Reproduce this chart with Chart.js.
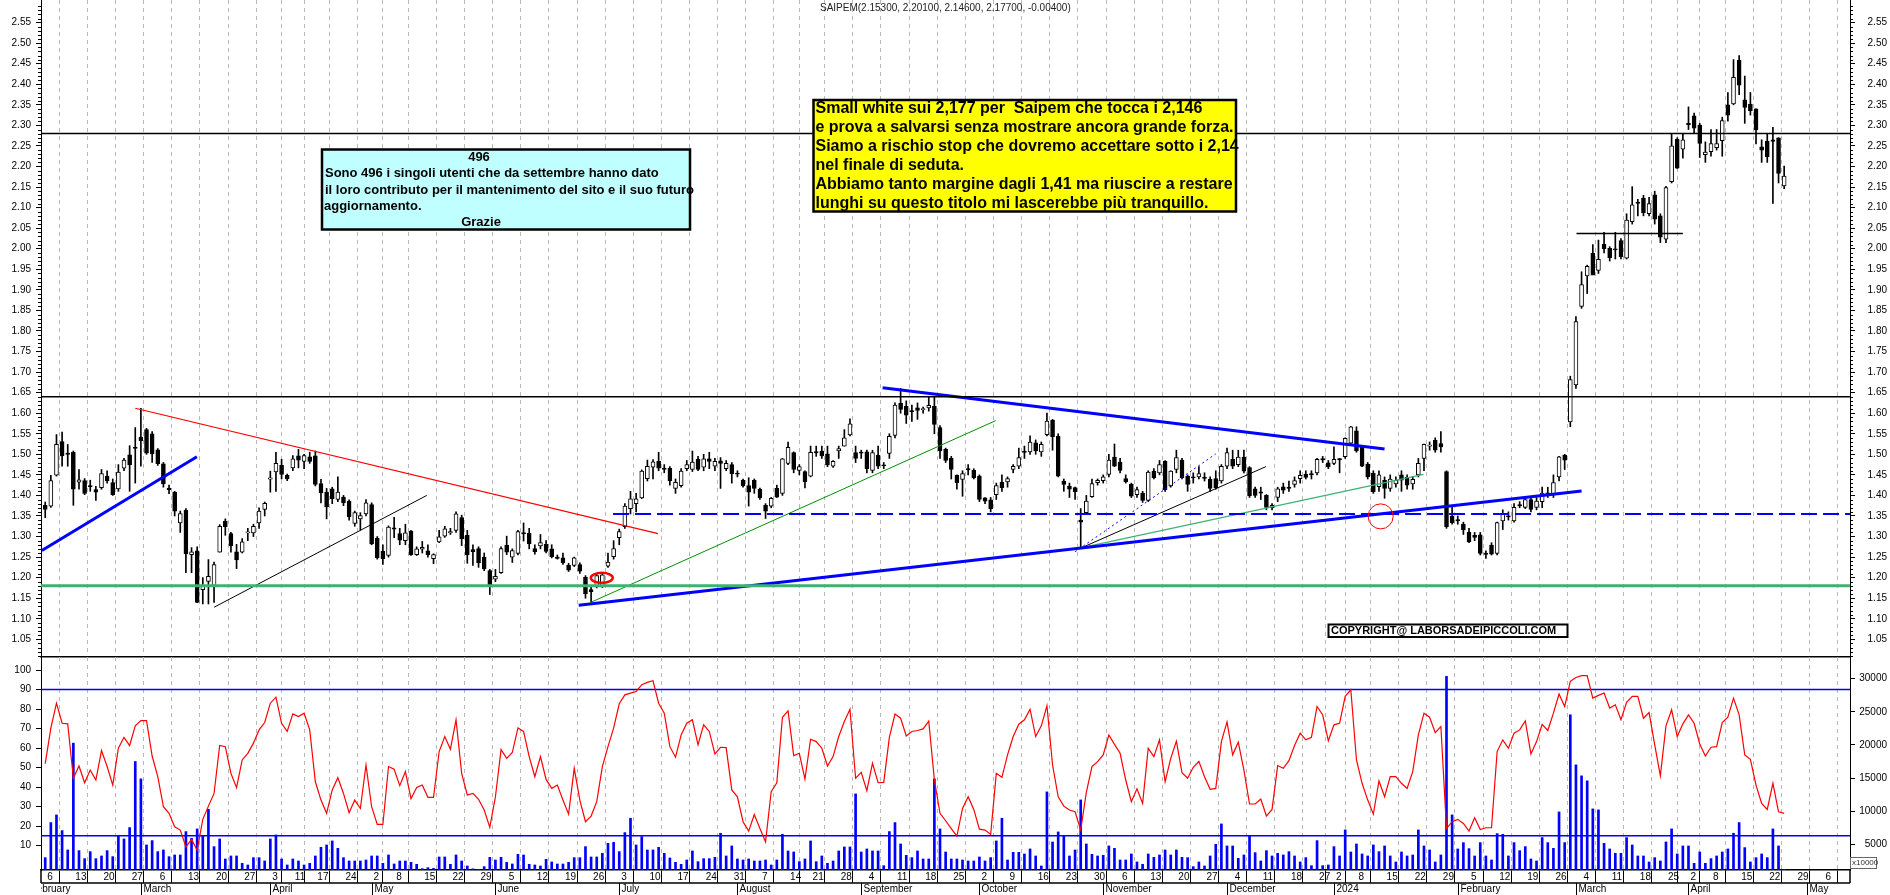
<!DOCTYPE html>
<html>
<head>
<meta charset="utf-8">
<script src="https://cdn.jsdelivr.net/npm/chart.js@4.4.0/dist/chart.umd.min.js"></script>
<style>
  html, body { margin: 0; padding: 0; background: #fff; }
  #wrap { position: relative; width: 1890px; height: 895px; overflow: hidden; background: #fff; }
  #top { position: absolute; left: 0; top: 0; }
  #bot { position: absolute; left: 0; top: 657px; }
</style>
</head>
<body>
<div id="wrap">
  <canvas id="top" width="1890" height="658"></canvas>
  <canvas id="bot" width="1890" height="238"></canvas>
</div>
<script>
// ---- calendar: sessions from 6 Feb 2023 to 25 Apr 2024, axis runs on to 10 May 2024
const calendarStart = '2023-02-01';
const firstSession = '2023-02-06';
const lastSession = '2024-04-25';
const axisEnd = '2024-05-10';
const holidays = ['2023-04-07', '2023-04-10', '2023-05-01', '2023-08-15', '2023-12-25',
                  '2023-12-26', '2024-01-01', '2024-03-29', '2024-04-01'];
const monthNames = ['2024', 'February', 'March', 'April', 'May', 'June', 'July', 'August',
                    'September', 'October', 'November', 'December'];

// ---- daily candles (SAIPEM)
const opens = [
  1.376,1.374,1.449,1.531,1.503,1.505,1.432,1.436,1.424,1.414,
  1.419,1.447,1.431,1.416,1.466,1.499,1.517,1.542,1.560,1.550,
  1.511,1.477,1.418,1.408,1.333,1.364,1.256,1.265,1.171,1.191,
  1.181,1.262,1.337,1.307,1.263,1.262,1.309,1.309,1.333,1.366,
  1.440,1.457,1.473,1.449,1.467,1.496,1.483,1.494,1.496,1.429,
  1.408,1.416,1.390,1.396,1.386,1.332,1.343,1.355,1.378,1.296,
  1.264,1.254,1.321,1.307,1.290,1.313,1.256,1.269,1.265,1.246,
  1.287,1.301,1.309,1.315,1.346,1.303,1.268,1.271,1.250,1.217,
  1.196,1.212,1.279,1.250,1.259,1.309,1.308,1.271,1.277,1.281,
  1.270,1.250,1.248,1.230,1.230,1.232,1.201,1.171,1.180,1.178,
  1.228,1.251,1.297,1.324,1.368,1.380,1.394,1.441,1.469,1.483,
  1.466,1.466,1.417,1.424,1.465,1.463,1.488,1.469,1.489,1.471,
  1.484,1.465,1.475,1.454,1.437,1.424,1.437,1.415,1.376,1.374,
  1.417,1.405,1.478,1.504,1.461,1.458,1.447,1.506,1.508,1.501,
  1.471,1.508,1.520,1.547,1.504,1.505,1.506,1.461,1.498,1.474,
  1.502,1.546,1.624,1.617,1.606,1.613,1.609,1.613,1.617,1.565,
  1.512,1.490,1.449,1.439,1.464,1.461,1.447,1.394,1.389,1.402,
  1.432,1.433,1.463,1.471,1.507,1.506,1.528,1.506,1.548,1.583,
  1.544,1.435,1.423,1.419,1.340,1.358,1.397,1.431,1.436,1.451,
  1.493,1.481,1.441,1.427,1.402,1.406,1.388,1.459,1.455,1.483,
  1.423,1.463,1.486,1.447,1.445,1.445,1.444,1.439,1.441,1.435,
  1.471,1.488,1.475,1.493,1.468,1.416,1.408,1.400,1.370,1.395,
  1.421,1.419,1.427,1.441,1.452,1.452,1.455,1.489,1.479,1.478,
  1.489,1.494,1.527,1.557,1.518,1.476,1.454,1.421,1.437,1.417,
  1.428,1.450,1.444,1.428,1.450,1.490,1.520,1.534,1.526,1.458,
  1.350,1.341,1.330,1.310,1.303,1.304,1.259,1.279,1.259,1.338,
  1.350,1.338,1.377,1.371,1.390,1.371,1.385,1.406,1.401,1.445,
  1.498,1.579,1.669,1.860,1.934,1.989,1.947,2.011,2.001,2.000,
  2.020,1.977,2.066,2.113,2.123,2.085,2.131,2.080,2.023,2.163,
  2.266,2.242,2.305,2.323,2.301,2.229,2.236,2.246,2.263,2.350,
  2.352,2.458,2.362,2.352,2.340,2.248,2.262,2.265,2.270,2.153
];
const highs = [
  1.384,1.449,1.548,1.554,1.524,1.508,1.463,1.441,1.437,1.422,
  1.463,1.460,1.440,1.475,1.490,1.521,1.565,1.612,1.563,1.555,
  1.514,1.480,1.425,1.410,1.362,1.368,1.273,1.275,1.200,1.244,
  1.238,1.329,1.343,1.310,1.281,1.295,1.320,1.330,1.370,1.384,
  1.459,1.505,1.488,1.452,1.497,1.512,1.500,1.505,1.508,1.439,
  1.417,1.420,1.445,1.400,1.389,1.362,1.358,1.390,1.382,1.300,
  1.280,1.326,1.347,1.320,1.330,1.315,1.275,1.288,1.280,1.258,
  1.315,1.325,1.320,1.360,1.352,1.315,1.280,1.275,1.260,1.220,
  1.220,1.275,1.301,1.270,1.315,1.333,1.320,1.280,1.305,1.290,
  1.280,1.255,1.260,1.235,1.250,1.236,1.205,1.180,1.208,1.210,
  1.260,1.290,1.318,1.380,1.410,1.405,1.462,1.486,1.487,1.505,
  1.475,1.470,1.440,1.465,1.485,1.508,1.495,1.500,1.505,1.490,
  1.492,1.485,1.480,1.460,1.440,1.443,1.440,1.418,1.380,1.395,
  1.425,1.490,1.530,1.506,1.475,1.460,1.520,1.520,1.520,1.520,
  1.485,1.520,1.560,1.586,1.520,1.510,1.510,1.510,1.520,1.480,
  1.550,1.625,1.660,1.630,1.620,1.625,1.615,1.640,1.640,1.570,
  1.515,1.495,1.450,1.460,1.475,1.465,1.450,1.395,1.395,1.430,
  1.450,1.445,1.475,1.515,1.520,1.545,1.535,1.530,1.600,1.585,
  1.550,1.440,1.430,1.420,1.368,1.400,1.440,1.440,1.450,1.500,
  1.525,1.490,1.450,1.430,1.420,1.410,1.460,1.465,1.485,1.485,
  1.460,1.510,1.490,1.450,1.455,1.470,1.455,1.445,1.460,1.475,
  1.515,1.510,1.510,1.510,1.470,1.420,1.420,1.402,1.380,1.420,
  1.430,1.435,1.445,1.460,1.460,1.460,1.490,1.495,1.485,1.518,
  1.490,1.540,1.568,1.567,1.520,1.480,1.460,1.460,1.445,1.450,
  1.445,1.460,1.450,1.445,1.490,1.525,1.530,1.540,1.555,1.460,
  1.374,1.350,1.335,1.320,1.310,1.310,1.265,1.285,1.335,1.365,
  1.360,1.380,1.385,1.395,1.395,1.395,1.420,1.420,1.450,1.495,
  1.500,1.690,1.835,1.944,1.960,2.010,2.021,2.040,2.005,2.040,
  2.025,2.085,2.151,2.120,2.130,2.125,2.140,2.085,2.152,2.280,
  2.270,2.280,2.345,2.330,2.305,2.260,2.290,2.290,2.320,2.380,
  2.460,2.470,2.420,2.380,2.340,2.265,2.280,2.295,2.270,2.201
];
const lows = [
  1.346,1.371,1.447,1.471,1.471,1.376,1.415,1.402,1.410,1.388,
  1.415,1.430,1.400,1.410,1.460,1.410,1.430,1.471,1.500,1.480,
  1.473,1.420,1.404,1.350,1.310,1.212,1.212,1.139,1.136,1.136,
  1.140,1.262,1.303,1.262,1.222,1.260,1.290,1.300,1.320,1.350,
  1.408,1.410,1.440,1.436,1.460,1.467,1.465,1.478,1.423,1.382,
  1.343,1.380,1.385,1.375,1.340,1.325,1.316,1.350,1.280,1.245,
  1.232,1.250,1.297,1.280,1.280,1.254,1.254,1.260,1.250,1.234,
  1.285,1.298,1.305,1.310,1.278,1.235,1.230,1.225,1.217,1.159,
  1.190,1.210,1.256,1.237,1.255,1.289,1.270,1.257,1.270,1.260,
  1.248,1.245,1.232,1.215,1.227,1.210,1.150,1.139,1.175,1.176,
  1.225,1.245,1.280,1.320,1.355,1.360,1.392,1.435,1.440,1.460,
  1.455,1.425,1.405,1.420,1.460,1.458,1.460,1.460,1.465,1.460,
  1.417,1.460,1.430,1.445,1.420,1.374,1.405,1.390,1.344,1.370,
  1.395,1.400,1.475,1.455,1.450,1.418,1.445,1.495,1.490,1.470,
  1.468,1.490,1.520,1.545,1.480,1.490,1.455,1.455,1.465,1.465,
  1.490,1.540,1.600,1.575,1.580,1.585,1.600,1.605,1.550,1.490,
  1.480,1.440,1.415,1.398,1.450,1.440,1.385,1.380,1.360,1.390,
  1.410,1.420,1.455,1.465,1.490,1.500,1.500,1.495,1.545,1.510,
  1.445,1.410,1.395,1.390,1.272,1.355,1.395,1.425,1.430,1.445,
  1.470,1.455,1.430,1.395,1.395,1.383,1.385,1.440,1.450,1.410,
  1.420,1.455,1.440,1.410,1.430,1.440,1.435,1.410,1.415,1.430,
  1.465,1.465,1.470,1.455,1.395,1.395,1.390,1.365,1.365,1.385,
  1.405,1.410,1.420,1.430,1.440,1.440,1.450,1.480,1.465,1.475,
  1.455,1.490,1.525,1.505,1.470,1.440,1.405,1.410,1.393,1.410,
  1.420,1.410,1.415,1.415,1.445,1.460,1.510,1.505,1.505,1.320,
  1.330,1.330,1.305,1.285,1.290,1.255,1.247,1.255,1.255,1.317,
  1.340,1.335,1.370,1.368,1.360,1.365,1.370,1.395,1.395,1.435,
  1.463,1.567,1.660,1.855,1.891,1.940,1.940,1.990,1.970,1.975,
  1.975,1.975,2.060,2.080,2.080,2.080,2.060,2.015,2.015,2.160,
  2.195,2.220,2.290,2.280,2.222,2.210,2.225,2.240,2.225,2.310,
  2.350,2.375,2.305,2.325,2.255,2.210,2.210,2.110,2.160,2.146
];
const closes = [
  1.366,1.436,1.524,1.496,1.500,1.415,1.438,1.405,1.421,1.408,
  1.453,1.435,1.402,1.457,1.486,1.474,1.515,1.533,1.503,1.501,
  1.477,1.428,1.414,1.362,1.356,1.258,1.263,1.140,1.182,1.203,
  1.232,1.325,1.324,1.278,1.243,1.287,1.311,1.325,1.362,1.381,
  1.442,1.478,1.451,1.440,1.489,1.486,1.497,1.483,1.427,1.406,
  1.372,1.392,1.408,1.382,1.348,1.358,1.351,1.382,1.282,1.248,
  1.246,1.323,1.318,1.291,1.309,1.256,1.270,1.274,1.256,1.256,
  1.299,1.319,1.312,1.355,1.295,1.256,1.263,1.236,1.221,1.180,
  1.203,1.271,1.262,1.266,1.312,1.307,1.282,1.263,1.285,1.264,
  1.251,1.247,1.236,1.218,1.248,1.216,1.161,1.166,1.205,1.207,
  1.238,1.271,1.312,1.374,1.392,1.392,1.459,1.471,1.482,1.466,
  1.464,1.436,1.432,1.459,1.475,1.481,1.463,1.489,1.483,1.483,
  1.478,1.478,1.453,1.452,1.423,1.408,1.417,1.394,1.362,1.393,
  1.396,1.489,1.517,1.463,1.470,1.433,1.505,1.504,1.496,1.474,
  1.483,1.514,1.540,1.574,1.490,1.503,1.465,1.504,1.471,1.472,
  1.544,1.620,1.609,1.595,1.604,1.607,1.611,1.619,1.573,1.508,
  1.485,1.463,1.431,1.453,1.463,1.443,1.390,1.386,1.367,1.424,
  1.419,1.441,1.471,1.492,1.505,1.530,1.508,1.524,1.581,1.543,
  1.447,1.427,1.415,1.409,1.335,1.386,1.429,1.437,1.445,1.486,
  1.471,1.461,1.433,1.398,1.414,1.388,1.457,1.443,1.475,1.414,
  1.459,1.492,1.443,1.427,1.443,1.453,1.442,1.417,1.419,1.471,
  1.504,1.471,1.493,1.459,1.399,1.400,1.406,1.371,1.376,1.416,
  1.413,1.418,1.436,1.449,1.444,1.451,1.488,1.487,1.470,1.488,
  1.487,1.539,1.567,1.508,1.471,1.445,1.409,1.450,1.417,1.440,
  1.437,1.437,1.425,1.439,1.478,1.524,1.522,1.510,1.518,1.324,
  1.334,1.338,1.316,1.287,1.298,1.259,1.257,1.257,1.334,1.354,
  1.348,1.371,1.375,1.390,1.366,1.386,1.406,1.404,1.431,1.494,
  1.486,1.682,1.823,1.913,1.957,1.936,1.974,2.000,1.978,1.997,
  1.981,2.070,2.107,2.111,2.088,2.110,2.072,2.028,2.149,2.250,
  2.196,2.265,2.302,2.293,2.256,2.235,2.256,2.256,2.312,2.325,
  2.417,2.398,2.344,2.336,2.289,2.240,2.224,2.261,2.183,2.177
];

// ---- lower panel: oscillator (left scale) and volume (right scale)
const oscillator = [
  52,70.2,83,72.7,72.4,44.5,50.8,42.2,48.7,43.6,
  58.7,50.5,41,59.9,65.5,61.3,71.4,74.1,74.1,55.9,
  45.3,29.9,26.5,19.6,17.9,9.3,13.1,7.6,23.4,30.2,
  36.7,61.3,60.7,47,39.7,53.9,57.3,62.5,69.3,73.1,
  83,86.1,72.7,68.5,77.5,76.2,77.9,69.3,42.7,33.3,
  26.5,38.5,44.8,36.7,26.8,33.3,29,51.3,29.9,20.8,
  20.8,50.5,49.1,40.7,47.9,34,39.8,41,34.7,34.7,
  58.2,65.9,59.4,74.5,47,35.9,36.7,33.7,28.2,19.3,
  35,59.2,54.7,57.7,70.3,68.5,55.6,45.3,55.6,43.9,
  39.3,41,33.3,26.1,49.6,33.3,22.2,25.1,32.5,50.5,
  60.7,70.2,82.7,87.3,88.2,89,92.5,93.7,94.5,83,
  77.9,60.7,55.3,66.7,72.7,74.5,61.6,71.9,68.5,57,
  60.4,60.2,38.5,35,22.2,17.4,25.9,18.7,11.9,37.6,
  42.2,75.8,79.1,56.1,57.3,44.1,64.5,63.3,59.9,50.8,
  55.6,65.9,73.6,79.9,44.5,47.5,38.1,52.2,42.2,42.4,
  65.5,77.4,75.3,66.2,68.5,69,69.8,73.8,43.6,26.5,
  22.7,18.7,14.8,29,35,28.5,18.4,17.9,15.7,47,
  45,56.5,65.9,72.2,74.5,79.9,65.9,71.4,81.7,51.3,
  35,30.2,28.2,27.3,17.9,37.3,50.5,53,56.5,66.7,
  61.9,57.3,43.6,32.5,39.1,31.6,59.9,55.6,64.2,42.7,
  54.7,63.5,47.4,44.5,50.1,53.2,45.3,38.8,39.3,63.3,
  73.4,56.5,63,48.7,31.3,31.3,33.8,25.1,28.5,51,
  49.6,53.5,61.3,67.6,64.2,65.5,81.3,77,63.7,71.9,
  72.7,86.5,89.9,53.9,41.9,33.3,26.1,43.1,35,45.3,
  45.3,41.9,39.3,47.9,66.7,77.9,75.8,67.9,71,18.7,
  22.2,23.4,21.3,17.4,24.2,18.2,19.1,19.1,58.2,64.2,
  59.9,67.6,69.3,73.9,57,63.3,72.1,69,77.9,87.7,
  81.3,94.2,96.2,97.1,97.1,85.6,87,88.2,80.5,82.2,
  74.5,83.4,86.5,86.5,75.3,78.2,61.6,45.7,71.4,79.6,
  65.9,72.4,77,72.7,62.1,55.9,60.4,60.7,73.1,75.8,
  85.6,77,56.5,54.2,41,31.6,28.5,41.9,27.3,26.5
];
const volume = [
  2986,8278,9437,7068,4145,20273,4044,2834,3893,2834,
  3238,4044,3137,6362,5808,7522,17501,14880,4901,5556,
  3893,4145,3137,3389,3389,6917,5909,7320,6262,10294,
  4649,5808,2784,3238,3238,2129,1877,2986,2986,2482,
  5808,6413,2784,1877,2784,2482,1877,2129,3238,4548,
  4901,5506,4397,2986,2482,2482,2482,2633,3238,3238,
  2129,3389,2028,2482,2482,2280,1978,1323,1474,1373,
  3087,3087,1978,3389,2482,1726,1300,1200,1625,3036,
  2633,3036,2280,2028,3490,3389,1978,1877,1726,2734,
  2331,2028,2028,2280,2986,2986,4649,3087,3087,3641,
  5153,5304,3893,6766,8933,4901,6161,4145,4145,4548,
  3641,2935,2280,1978,2633,3994,2381,2834,2834,3036,
  6665,3238,4750,2784,2633,2784,2482,2482,2633,1877,
  2633,6514,3994,3842,2381,2784,5506,2381,3238,2129,
  2482,3994,4599,4599,12612,3842,4296,3994,3994,1776,
  6917,8278,5052,3338,2986,3994,2784,2784,14880,7320,
  3842,2784,2784,2633,2482,2482,3087,2482,2986,5506,
  8933,2633,3792,3792,3540,4296,3238,1726,12914,5355,
  6866,6362,3238,4145,11704,5052,3490,3238,3338,4750,
  4397,2633,2633,3540,2331,1978,3540,3036,3389,4145,
  3389,4145,3036,2986,1625,2331,1726,3238,5002,8076,
  4750,4750,2885,3389,6362,3742,2482,4044,3238,3641,
  3389,3893,3238,2331,2986,1776,5556,1776,1877,4649,
  3238,7169,3842,5052,3540,3238,4901,3893,4750,3238,
  2331,3842,3238,3389,7169,4750,4145,2331,3389,30353,
  9437,4296,5254,4347,3238,5254,3238,2633,6614,6514,
  3238,5254,4044,4649,2784,2482,6010,5254,4397,9890,
  5254,24557,16997,15334,14578,10344,10193,5153,4296,3641,
  3641,6010,4901,3238,3238,2331,2986,2482,5355,7320,
  3540,4750,4750,2129,3842,2129,2834,3238,3842,4296,
  6665,8278,4498,2331,2986,3540,2986,7320,4750,1220
];

// ---- axis ticks
const priceTicks = [1.05,1.10,1.15,1.20,1.25,1.30,1.35,1.40,1.45,1.50,1.55,1.60,1.65,1.70,1.75,
                    1.80,1.85,1.90,1.95,2.00,2.05,2.10,2.15,2.20,2.25,2.30,2.35,2.40,2.45,2.50,2.55];
const oscTicks = [10, 20, 30, 40, 50, 60, 70, 80, 90, 100];
const volumeTicks = [5000, 10000, 15000, 20000, 25000, 30000];

// ---- drawn studies (session index, price)
const priceLevels = [2.28, 1.64];
const supportLevel = 1.18;
const dashedLevel = [100.9, 1.355];
const oscLevels = [90, 15];
const trendPoints = [
  [-0.6, 1.266, 26.95, 1.494],
  [16.0, 1.612, 108.9, 1.307],
  [30.0, 1.128, 67.8, 1.400],
  [96.8, 1.139, 168.9, 1.582],
  [94.8, 1.133, 273.0, 1.411],
  [148.8, 1.662, 238.0, 1.513],
  [184.2, 1.273, 244.9, 1.451],
  [184.2, 1.273, 216.9, 1.470],
  [183.0, 1.263, 208.0, 1.501],
  [272.1, 2.037, 291.0, 2.037]
];
const trendStyles = [
  ['#0000ff', 3, []], ['#ff0000', 1.2, []], ['#000000', 1, []], ['#009000', 1, []],
  ['#0000ff', 3, []], ['#0000ff', 3, []], ['#3cb371', 1.2, []], ['#000000', 1, []],
  ['#0000ff', 1, [2, 3]], ['#000000', 1.5, []]
];
const circleMarks = [[98.9, 1.1995], [237.3, 1.349]];

// ---- calendar helpers
function isoDays() {
  const out = [];
  let t = Date.parse(calendarStart + 'T00:00:00Z');
  const end = Date.parse(axisEnd + 'T00:00:00Z');
  while (t <= end) {
    const d = new Date(t);
    const iso = d.toISOString().slice(0, 10);
    const wd = d.getUTCDay();
    if (wd !== 0 && wd !== 6 && !(iso <= lastSession && holidays.includes(iso))) out.push(iso);
    t += 86400000;
  }
  return out;
}
const days = isoDays();
const shift = days.indexOf(firstSession);
const weekTicks = [], monthTicks = [];
days.forEach((iso, k) => {
  const d = new Date(iso + 'T00:00:00Z');
  const prev = k ? new Date(days[k - 1] + 'T00:00:00Z') : null;
  const idx = k - shift;
  if (!prev || d.getUTCDay() <= prev.getUTCDay() || d - prev > 4 * 86400000) {
    weekTicks.push({ idx, label: String(d.getUTCDate()) });
  }
  if (!prev || d.getUTCMonth() !== prev.getUTCMonth()) {
    monthTicks.push({ idx, label: monthNames[d.getUTCMonth()] });
  }
});

const xFrom = -0.75, xTo = 320.7;

Chart.defaults.font.family = "'Liberation Sans', Arial, Helvetica, sans-serif";
Chart.defaults.font.size = 10;
Chart.defaults.color = '#000';

function xScale(withTicks) {
  return {
    type: 'linear', min: xFrom, max: xTo, offset: false,
    afterBuildTicks: s => {
      s.ticks = weekTicks.filter(t => t.idx >= xFrom && t.idx <= xTo).map(t => ({ value: t.idx }));
    },
    ticks: { display: false },
    grid: { color: '#b8b8b8', lineWidth: 1, drawTicks: withTicks, tickLength: 13,
            tickColor: '#000', tickWidth: 1 },
    border: { display: true, color: '#000', width: 1.5, dash: [4, 4] },
    afterFit: s => { s.height = withTicks ? 25 : 1; s.paddingLeft = 0; s.paddingRight = 0; }
  };
}
function yScale(pos, min, max, ticks, fmt, pad) {
  return {
    type: 'linear', position: pos, min, max, display: true,
    afterBuildTicks: s => { s.ticks = ticks.map(v => ({ value: v })); },
    ticks: { callback: v => fmt(v), padding: pad, font: { size: 10 }, color: '#000',
             crossAlign: pos === 'right' ? 'far' : 'near' },
    grid: { drawOnChartArea: false, drawTicks: true, tickLength: 5, tickColor: '#000', tickWidth: 1 },
    border: { display: true, color: '#000', width: 1 },
    afterFit: s => { s.width = pos === 'right' ? 37 : 41; s.paddingTop = 0; s.paddingBottom = 0; }
  };
}
function flat(x1, x2, v) { return [{ x: x1, y: v }, { x: x2, y: v }]; }
function lineSet(data, color, width, dash, axis) {
  return { type: 'line', data, borderColor: color, borderWidth: width, borderDash: dash,
           pointRadius: 0, fill: false, tension: 0, order: 0, yAxisID: axis };
}

// ---- upper panel
const bodies = opens.map((o, i) => {
  let lo = Math.min(o, closes[i]), hi = Math.max(o, closes[i]);
  if (hi - lo < 0.003) { const m = (hi + lo) / 2; lo = m - 0.0015; hi = m + 0.0015; }
  return { x: i, y: [lo, hi] };
});
const bodyColors = opens.map((o, i) => (closes[i] >= o ? '#ffffff' : '#000000'));

const topSets = [
  { type: 'bar', data: lows.map((l, i) => ({ x: i, y: [l, highs[i]] })), backgroundColor: '#000',
    barThickness: 1, grouped: false, borderWidth: 0, order: 2, yAxisID: 'y' },
  { type: 'bar', data: bodies, backgroundColor: bodyColors, borderColor: '#000', borderWidth: 1,
    borderSkipped: false, barThickness: 4, grouped: false, order: 1, yAxisID: 'y' }
];
priceLevels.forEach(v => topSets.push(lineSet(flat(xFrom, xTo, v), '#000', 1.5, [], 'y')));
topSets.push(lineSet(flat(xFrom, xTo, supportLevel), '#3cb371', 3, [], 'y'));
topSets.push(lineSet(flat(dashedLevel[0], xTo, dashedLevel[1]), '#0000ff', 2, [16, 6], 'y'));
trendPoints.forEach((p, i) => {
  const st = trendStyles[i];
  topSets.push(lineSet([{ x: p[0], y: p[1] }, { x: p[2], y: p[3] }], st[0], st[1], st[2], 'y'));
});

const topOverlay = {
  id: 'topOverlay',
  afterDatasetsDraw(chart) {
    const { ctx, scales: { x, y } } = chart;
    ctx.save();
    ctx.strokeStyle = '#ff0000';
    ctx.lineWidth = 2.5;
    ctx.beginPath();
    ctx.ellipse(x.getPixelForValue(circleMarks[0][0]), y.getPixelForValue(circleMarks[0][1]), 11, 5, 0, 0, Math.PI * 2);
    ctx.stroke();
    ctx.lineWidth = 1;
    ctx.beginPath();
    ctx.arc(x.getPixelForValue(circleMarks[1][0]), y.getPixelForValue(circleMarks[1][1]), 12.5, 0, Math.PI * 2);
    ctx.stroke();
    ctx.restore();
  },
  afterDraw(chart) {
    const { ctx, scales: { y, y2 } } = chart;
    ctx.save();
    // minor ticks every 0.01
    ctx.strokeStyle = '#000';
    ctx.lineWidth = 1;
    ctx.beginPath();
    for (let k = 101; k <= 260; k++) {
      if (k % 5 === 0) continue;
      const py = Math.round(y.getPixelForValue(k / 100)) + 0.5;
      ctx.moveTo(y.right - 3, py); ctx.lineTo(y.right, py);
      ctx.moveTo(y2.left, py); ctx.lineTo(y2.left + 3, py);
    }
    ctx.stroke();

    // title
    ctx.fillStyle = '#222';
    ctx.font = "10px 'Liberation Sans', Arial, sans-serif";
    ctx.textBaseline = 'middle';
    ctx.textAlign = 'left';
    ctx.fillText('SAIPEM(2.15300, 2.20100, 2.14600, 2.17700, -0.00400)', 820, 8);

    // cyan note
    ctx.fillStyle = '#bfffff';
    ctx.fillRect(322, 149.5, 368, 80);
    ctx.lineWidth = 2.5;
    ctx.strokeStyle = '#000';
    ctx.strokeRect(322, 149.5, 368, 80);
    ctx.fillStyle = '#000';
    ctx.font = "bold 13px 'Liberation Sans', Arial, sans-serif";
    ctx.textAlign = 'center';
    ctx.fillText('496', 479, 157);
    ctx.fillText('Grazie', 481, 222.5);
    ctx.textAlign = 'left';
    ctx.fillText('Sono 496 i singoli utenti che da settembre hanno dato', 325, 173.5);
    ctx.fillText('il loro contributo per il mantenimento del sito e il suo futuro', 325, 190);
    ctx.fillText('aggiornamento.', 324, 206.5);

    // yellow comment
    ctx.fillStyle = '#ffff00';
    ctx.fillRect(813.5, 100, 422.5, 111.5);
    ctx.strokeRect(813.5, 100, 422.5, 111.5);
    ctx.fillStyle = '#000';
    ctx.font = "bold 16px 'Liberation Sans', Arial, sans-serif";
    const comment = [
      'Small white sui 2,177 per  Saipem che tocca i 2,146',
      'e prova a salvarsi senza mostrare ancora grande forza.',
      'Siamo a rischio stop che dovremo accettare sotto i 2,14',
      'nel finale di seduta.',
      'Abbiamo tanto margine dagli 1,41 ma riuscire a restare',
      'lunghi su questo titolo mi lascerebbe più tranquillo.'
    ];
    comment.forEach((t, i) => ctx.fillText(t, 815.5, 109 + i * 18.9));

    // copyright
    ctx.fillStyle = '#fff';
    ctx.fillRect(1328.5, 624.5, 239, 12.5);
    ctx.lineWidth = 2;
    ctx.strokeRect(1328.5, 624.5, 239, 12.5);
    ctx.fillStyle = '#000';
    ctx.font = "bold 11px 'Liberation Sans', Arial, sans-serif";
    ctx.fillText('COPYRIGHT@ LABORSADEIPICCOLI.COM', 1331, 631);
    ctx.restore();
  }
};

new Chart(document.getElementById('top'), {
  type: 'bar',
  data: { datasets: topSets },
  options: {
    responsive: false, devicePixelRatio: 1, animation: false, events: [],
    layout: { padding: { left: 0, right: 3, top: 0, bottom: 0 } },
    plugins: { legend: { display: false }, tooltip: { enabled: false } },
    scales: {
      x: xScale(false),
      y: yScale('left', 1.007, 2.605, priceTicks, v => v.toFixed(2), 5),
      y2: yScale('right', 1.007, 2.605, priceTicks, v => v.toFixed(2), 10)
    }
  },
  plugins: [topOverlay]
});

// ---- lower panel
const botSets = [
  { type: 'bar', data: volume.map((v, i) => ({ x: i, y: v })), backgroundColor: '#0000ff',
    barThickness: 2, grouped: false, borderWidth: 0, order: 2, yAxisID: 'yv' },
  lineSet(oscillator.map((v, i) => ({ x: i, y: v })), '#ff0000', 1.2, [], 'yo')
];
oscLevels.forEach(v => botSets.push(lineSet(flat(xFrom, xTo, v), '#0000ff', 1.5, [], 'yo')));

const dateAxis = {
  id: 'dateAxis',
  afterDraw(chart) {
    const { ctx, chartArea: a, scales: { x } } = chart;
    const row1 = a.bottom + 13, row2 = chart.height;
    ctx.save();
    ctx.strokeStyle = '#000';
    ctx.lineWidth = 1.5;
    ctx.beginPath();
    ctx.moveTo(a.left, row1); ctx.lineTo(a.right, row1);
    ctx.moveTo(a.left, a.bottom); ctx.lineTo(a.left, row1);
    ctx.moveTo(a.right, a.bottom); ctx.lineTo(a.right, row1);
    ctx.stroke();
    ctx.beginPath();
    ctx.rect(a.left, a.bottom, a.right - a.left, row2 - a.bottom);
    ctx.clip();
    ctx.fillStyle = '#000';
    ctx.font = "10px 'Liberation Sans', Arial, sans-serif";
    ctx.textBaseline = 'middle';
    ctx.textAlign = 'left';
    weekTicks.forEach(t => {
      if (t.idx < xFrom || t.idx > xTo) return;
      ctx.fillText(t.label, x.getPixelForValue(t.idx) + 2, a.bottom + 7);
    });
    ctx.lineWidth = 1;
    monthTicks.forEach(t => {
      const px = Math.round(x.getPixelForValue(t.idx)) + 0.5;
      ctx.beginPath();
      ctx.moveTo(px, row1); ctx.lineTo(px, row2);
      ctx.stroke();
      ctx.fillText(t.label, px + 2, row1 + 6.5);
    });
    ctx.restore();

    // volume unit box
    ctx.save();
    ctx.strokeStyle = '#666';
    ctx.lineWidth = 1;
    ctx.strokeRect(a.right + 0.5, a.bottom - 12.5, 26, 11);
    ctx.fillStyle = '#333';
    ctx.font = "8px 'Liberation Sans', Arial, sans-serif";
    ctx.textBaseline = 'middle';
    ctx.fillText('x10000', a.right + 2, a.bottom - 7);
    ctx.restore();
  }
};

new Chart(document.getElementById('bot'), {
  type: 'bar',
  data: { datasets: botSets },
  options: {
    responsive: false, devicePixelRatio: 1, animation: false, events: [],
    layout: { padding: { left: 0, right: 3, top: 0, bottom: 0 } },
    plugins: { legend: { display: false }, tooltip: { enabled: false } },
    scales: {
      x: xScale(true),
      yo: yScale('left', -2.57, 106.7, oscTicks, v => String(v), 5),
      yv: yScale('right', 1120, 33280, volumeTicks, v => String(v), 3)
    }
  },
  plugins: [dateAxis]
});
</script>
</body>
</html>
